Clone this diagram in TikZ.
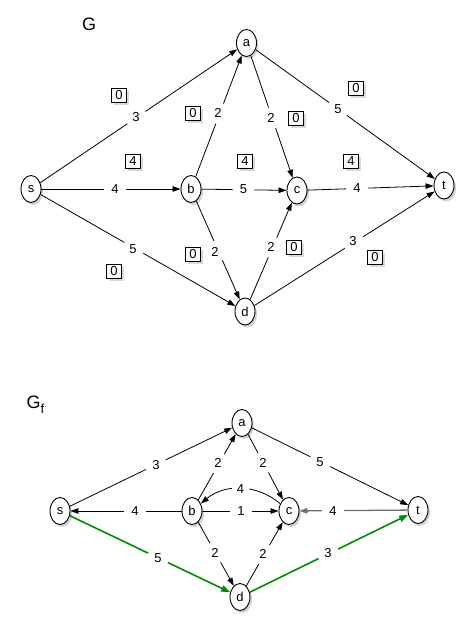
\documentclass[tikz,border=0pt]{standalone}
\usepackage{fontspec}
\setmainfont{Liberation Sans}
\usetikzlibrary{shapes.geometric,shadows,arrows.meta}
\begin{document}
\begin{tikzpicture}[x=1pt,y=-1pt,
  every node/.style={font=\fontsize{13}{15}\selectfont},
  vtx/.style={ellipse,draw,line width=0.9pt,fill=white,minimum width=20pt,minimum height=27pt,inner sep=0pt,
    drop shadow={shadow xshift=2pt,shadow yshift=-2.5pt,opacity=0.35}},
  lab/.style={circle,fill=white,inner sep=0pt,minimum size=22pt},
  flowbox/.style={draw,line width=0.8pt,fill=white,minimum width=15pt,minimum height=14pt,inner sep=0pt,
    drop shadow={shadow xshift=2pt,shadow yshift=-2.5pt,opacity=0.3}},
  arr/.style={line width=0.8pt,-{Triangle[length=8pt,width=5.5pt]}},
  aug/.style={line width=1.6pt,draw={rgb,255:red,0;green,140;blue,0},-{Triangle[length=9pt,width=6.5pt]}},
  back/.style={line width=1.3pt,draw={rgb,255:red,110;green,110;blue,110},-{Triangle[length=8pt,width=5.5pt]}}
]
\useasboundingbox (0,0) rectangle (476,632);
% ---------- G ----------
\node[font=\fontsize{18}{21}\selectfont] (titleG) at (89,24) {G};
\node[vtx] (s) at (31,189) {s};
\node[vtx] (a) at (246.5,43) {a};
\node[vtx] (b) at (191,189) {b};
\node[vtx] (c) at (297,190.5) {c};
\node[vtx] (t) at (444,185.5) {t};
\node[vtx] (d) at (245,311.5) {d};
\draw[arr] (s) -- (a);
\draw[arr] (s) -- (b);
\draw[arr] (s) -- (d);
\draw[arr] (b) -- (a);
\draw[arr] (a) -- (c);
\draw[arr] (a) -- (t);
\draw[arr] (b) -- (c);
\draw[arr] (c) -- (t);
\draw[arr] (b) -- (d);
\draw[arr] (d) -- (c);
\draw[arr] (d) -- (t);
\node[lab] (l1) at (136,117) {3};
\node[lab] (l2) at (115,189) {4};
\node[lab] (l3) at (133,249) {5};
\node[lab] (l4) at (218,113) {2};
\node[lab] (l5) at (271,118) {2};
\node[lab] (l6) at (338,109) {5};
\node[lab] (l7) at (243.5,189) {5};
\node[lab] (l8) at (357,188) {4};
\node[lab] (l9) at (215,252) {2};
\node[lab] (l10) at (271,247) {2};
\node[lab] (l11) at (353,241) {3};
\node[flowbox] (f1) at (119,95) {0};
\node[flowbox] (f2) at (133,161) {4};
\node[flowbox] (f3) at (114,271) {0};
\node[flowbox] (f4) at (193,113) {0};
\node[flowbox] (f5) at (296,118) {0};
\node[flowbox] (f6) at (356,88) {0};
\node[flowbox] (f7) at (245,161) {4};
\node[flowbox] (f8) at (351,161) {4};
\node[flowbox] (f9) at (193,254) {0};
\node[flowbox] (f10) at (294,247) {0};
\node[flowbox] (f11) at (375,257) {0};
% ---------- G_f ----------
\node[font=\fontsize{18}{21}\selectfont,anchor=west] (titleGf) at (23,405) {G\raisebox{-5pt}{\fontsize{13}{15}\selectfont f}};
\node[vtx] (s2) at (60,511) {s};
\node[vtx] (a2) at (242,423) {a};
\node[vtx] (b2) at (192,511) {b};
\node[vtx] (c2) at (289,511) {c};
\node[vtx] (t2) at (418,510) {t};
\node[vtx] (d2) at (240,597) {d};
\draw[arr] (s2) -- (a2);
\draw[arr] (a2) -- (t2);
\draw[arr] (b2) -- (a2);
\draw[arr] (a2) -- (c2);
\draw[arr] (c2) to[bend right=40] node[circle,fill=white,inner sep=0pt,minimum size=17pt,pos=0.5] (m4) {4} (b2);
\draw[arr] (b2) -- (s2);
\draw[arr] (b2) -- (c2);
\draw[back] (t2) -- (c2);
\draw[arr] (b2) -- (d2);
\draw[arr] (d2) -- (c2);
\draw[aug] (s2) -- (d2);
\draw[aug] (d2) -- (t2);
\node[lab] (m1) at (156,465) {3};
\node[lab] (m2) at (320,462) {5};
\node[lab] (m3) at (218,463) {2};
\node[lab] (m5) at (263,463) {2};
\node[lab] (m6) at (135,511) {4};
\node[lab] (m7) at (241,511) {1};
\node[lab] (m8) at (333,511) {4};
\node[lab] (m9) at (215,553) {2};
\node[lab] (m10) at (263,554) {2};
\node[lab] (m11) at (158,558) {5};
\node[lab] (m12) at (328,553) {3};
\end{tikzpicture}
\end{document}
